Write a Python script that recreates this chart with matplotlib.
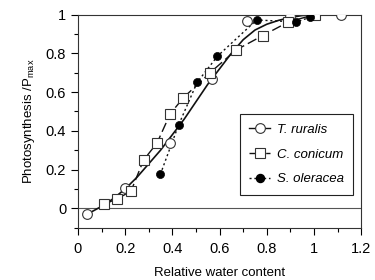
import matplotlib
matplotlib.use("Agg")
import matplotlib.pyplot as plt
from matplotlib.ticker import MultipleLocator, FuncFormatter

plt.rcParams['font.family'] = ['Liberation Sans', 'DejaVu Sans']
plt.rcParams['mathtext.fontset'] = 'custom'
plt.rcParams['mathtext.rm'] = 'Liberation Sans'

# T. ruralis (open circles) and its fitted curve
rur_x = [0.04, 0.20, 0.39, 0.567, 0.718, 0.899, 1.113]
rur_y = [-0.028, 0.104, 0.337, 0.668, 0.969, 0.995, 1.0]
fit_x = [0.04, 0.10, 0.15, 0.20, 0.25, 0.30, 0.35, 0.40, 0.45, 0.50, 0.55,
         0.60, 0.65, 0.70, 0.75, 0.80, 0.85, 0.90, 0.95, 1.00, 1.05, 1.113]
fit_y = [-0.03, 0.01, 0.05, 0.10, 0.16, 0.23, 0.30, 0.38, 0.46, 0.55, 0.64,
         0.72, 0.80, 0.87, 0.92, 0.95, 0.97, 0.985, 0.995, 1.0, 1.0, 1.0]

# C. conicum (open squares)
con_x = [0.112, 0.167, 0.224, 0.278, 0.335, 0.391, 0.447, 0.559, 0.670, 0.782, 0.892, 1.004]
con_y = [0.021, 0.050, 0.087, 0.249, 0.337, 0.488, 0.571, 0.699, 0.817, 0.891, 0.962, 1.0]

# S. oleracea (filled circles)
ole_x = [0.349, 0.426, 0.505, 0.591, 0.757, 0.925, 0.984]
ole_y = [0.175, 0.429, 0.650, 0.785, 0.972, 0.962, 0.986]

fig = plt.figure(figsize=(3.75, 2.8), dpi=100)
ax = fig.add_axes([0.208, 0.187, 0.755, 0.761])

ax.axhline(0, color='#555555', lw=0.8, zorder=1)

ax.plot(fit_x, fit_y, color='#111111', lw=1.2, zorder=2)
ax.plot(con_x, con_y, color='#111111', lw=1.0, ls=(0, (7, 3)), zorder=2)
ax.plot(ole_x, ole_y, color='#111111', lw=1.0, ls=(0, (1.5, 2)), zorder=2)

ax.plot(rur_x, rur_y, ls='none', marker='o', ms=7, mfc='white',
        mec='#333333', mew=0.8, zorder=3)
ax.plot(con_x, con_y, ls='none', marker='s', ms=7.8, mfc='white',
        mec='#333333', mew=0.8, zorder=3)
ax.plot(ole_x, ole_y, ls='none', marker='o', ms=5.8, mfc='black',
        mec='black', mew=0.5, zorder=4)

# legend proxies
h1, = ax.plot([], [], color='#111111', lw=1.0, marker='o', ms=7,
              mfc='white', mec='#333333', mew=0.8)
h2, = ax.plot([], [], color='#111111', lw=1.0, ls=(0, (4, 2)), marker='s',
              ms=7.8, mfc='white', mec='#333333', mew=0.8)
h3, = ax.plot([], [], color='#111111', lw=1.0, ls=(0, (1.5, 2)), marker='o',
              ms=5.8, mfc='black', mec='black')
leg = ax.legend([h1, h2, h3], ['T. ruralis', 'C. conicum', 'S. oleracea'],
                loc='lower right', bbox_to_anchor=(0.972, 0.155),
                fancybox=False, edgecolor='#222222', framealpha=1,
                prop={'style': 'italic', 'size': 9.5},
                handlelength=1.6, borderpad=0.7, labelspacing=0.95,
                handletextpad=0.5, borderaxespad=0)
leg.get_frame().set_linewidth(0.8)

ax.set_xlim(0, 1.2)
ax.set_ylim(-0.1, 1.0)
ax.xaxis.set_major_locator(MultipleLocator(0.2))
ax.xaxis.set_minor_locator(MultipleLocator(0.1))
ax.yaxis.set_major_locator(MultipleLocator(0.2))
ax.yaxis.set_minor_locator(MultipleLocator(0.1))
fmt = FuncFormatter(lambda v, p: ('%g' % round(v, 2)))
ax.xaxis.set_major_formatter(fmt)
ax.yaxis.set_major_formatter(fmt)
ax.tick_params(which='major', length=5, width=0.8, labelsize=10.5, direction='out')
ax.tick_params(axis='x', which='major', pad=5)
ax.tick_params(which='minor', length=3, width=0.8, direction='out')
for s in ax.spines.values():
    s.set_linewidth(0.8)
    s.set_color('#333333')

ax.set_xlabel('Relative water content', fontsize=9.5, labelpad=8)
ax.set_ylabel('Photosynthesis /P$_{\\mathrm{max}}$', fontsize=9.5, labelpad=6)

fig.savefig('out.png', dpi=100)
